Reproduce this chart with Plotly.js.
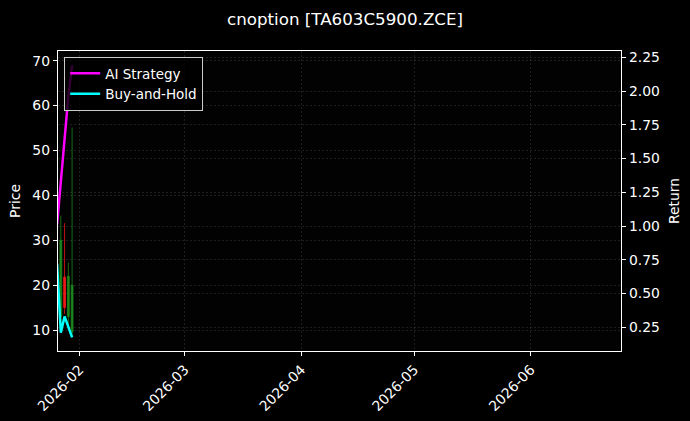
<!DOCTYPE html>
<html>
<head>
<meta charset="utf-8">
<script src="https://cdn.plot.ly/plotly-3.0.1.min.js"></script>
<style>html,body{margin:0;padding:0;background:#000;}#chart{width:690px;height:421px;}</style>
</head>
<body>
<div id="chart"></div>
<script>
// Candlestick data (price, left axis)
const candleDates = ['2026-01-27', '2026-01-28', '2026-01-29', '2026-01-30'];
const candleOpen  = [13.0, 21.8, 13.0, 9.5];
const candleHigh  = [35.5, 33.8, 25.0, 55.1];
const candleLow   = [10.7, 13.6, 11.0, 8.4];
const candleClose = [30.0, 15.0, 22.0, 20.0];

// Return series (right axis)
const lineDates = ['2026-01-26', '2026-01-27', '2026-01-28', '2026-01-29', '2026-01-30'];
const aiReturn  = [1.01, 1.34, 1.65, 1.96, 2.19];
const bhReturn  = [0.72, 0.21, 0.33, 0.25, 0.175];

// Axis ticks
const priceTicks  = [10, 20, 30, 40, 50, 60, 70];
const returnTicks = [0.25, 0.5, 0.75, 1.0, 1.25, 1.5, 1.75, 2.0, 2.25];

const FONT = 'DejaVu Sans, sans-serif';
const FS = 13.9;
const gridCol = 'rgba(128,128,128,0.45)';

const traces = [
  {
    type: 'candlestick', x: candleDates,
    open: candleOpen, high: candleHigh, low: candleLow, close: candleClose,
    increasing: {line: {color: '#1c861c', width: 0.8}, fillcolor: '#1c861c'},
    decreasing: {line: {color: '#f01818', width: 0.8}, fillcolor: '#f01818'},
    whiskerwidth: 0, showlegend: false, hoverinfo: 'skip',
    xaxis: 'x', yaxis: 'y'
  },
  {
    type: 'scatter', mode: 'lines', x: lineDates, y: aiReturn,
    name: 'AI Strategy', line: {color: '#ff00ff', width: 2.5},
    xaxis: 'x', yaxis: 'y2'
  },
  {
    type: 'scatter', mode: 'lines', x: lineDates, y: bhReturn,
    name: 'Buy-and-Hold', line: {color: '#00ffff', width: 2.5},
    xaxis: 'x', yaxis: 'y2'
  }
];

const layout = {
  width: 690, height: 421,
  paper_bgcolor: '#000000', plot_bgcolor: '#020202',
  margin: {l: 58, r: 69, t: 51, b: 70},
  font: {family: FONT, color: '#ffffff', size: FS},
  title: {text: 'cnoption [TA603C5900.ZCE]', font: {family: FONT, size: 16.7, color: '#ffffff'},
          x: 0.5, xanchor: 'center', y: 0.955, yanchor: 'middle'},
  showlegend: true,
  legend: {
    x: 0.011, y: 0.98, xanchor: 'left', yanchor: 'top',
    bgcolor: 'rgba(0,0,0,0.8)', bordercolor: '#cccccc', borderwidth: 1,
    font: {family: FONT, size: 13.5, color: '#ffffff'},
    itemwidth: 30, tracegroupgap: 0
  },
  xaxis: {
    type: 'date', range: ['2026-01-26 06:00', '2026-06-25'],
    tick0: '2026-02-01', dtick: 'M1', tickformat: '%Y-%m', tickangle: -45,
    showline: true, linecolor: '#ffffff', linewidth: 1.2, mirror: true,
    ticks: 'outside', ticklen: 4, tickcolor: '#ffffff', tickwidth: 1,
    showgrid: true, gridcolor: gridCol, griddash: '2px,2px', gridwidth: 0.5,
    zeroline: false, rangeslider: {visible: false},
    tickfont: {family: FONT, size: FS, color: '#ffffff'}
  },
  yaxis: {
    range: [5.33, 72.15], tickmode: 'array', tickvals: priceTicks,
    title: {text: 'Price', font: {family: FONT, size: FS, color: '#ffffff'}, standoff: 8},
    showline: true, linecolor: '#ffffff', linewidth: 1.2, mirror: true,
    ticks: 'outside', ticklen: 4, tickcolor: '#ffffff',
    showgrid: true, gridcolor: gridCol, griddash: '2px,2px', gridwidth: 0.5,
    zeroline: false, tickfont: {family: FONT, size: FS, color: '#ffffff'}
  },
  yaxis2: {
    overlaying: 'y', side: 'right',
    range: [0.074, 2.297], tickmode: 'array', tickvals: returnTicks, tickformat: '.2f',
    title: {text: 'Return', font: {family: FONT, size: FS, color: '#ffffff'}, standoff: 10},
    showline: true, linecolor: '#ffffff', linewidth: 1.2,
    ticks: 'outside', ticklen: 4, tickcolor: '#ffffff',
    showgrid: true, gridcolor: gridCol, griddash: '2px,2px', gridwidth: 0.5,
    zeroline: false, tickfont: {family: FONT, size: FS, color: '#ffffff'}
  }
};

Plotly.newPlot('chart', traces, layout, {displayModeBar: false, staticPlot: true});
</script>
</body>
</html>
